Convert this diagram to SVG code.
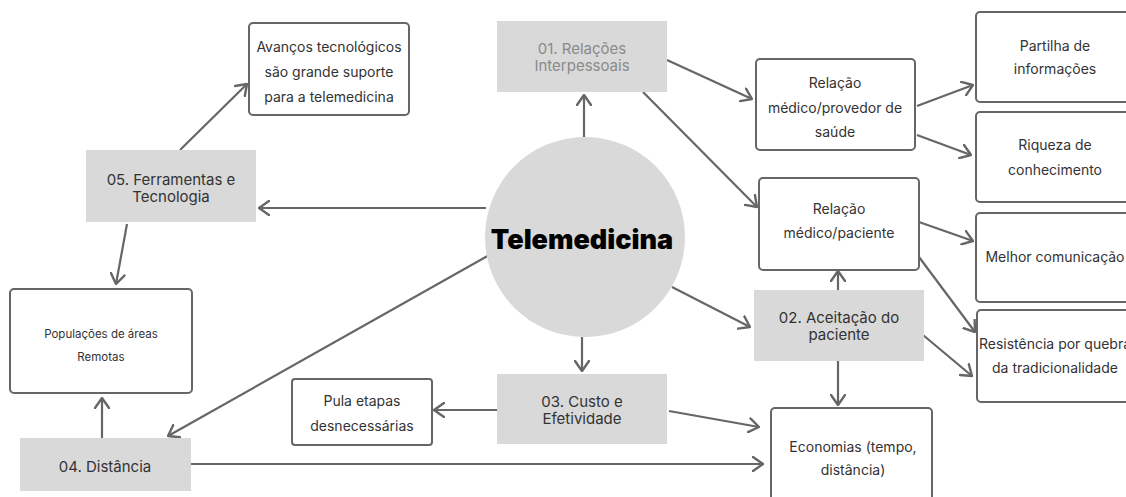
<svg xmlns="http://www.w3.org/2000/svg" width="1126" height="497" viewBox="0 0 1126 497">
<style>
.bg{fill:#ffffff}
.g{fill:#d9d9d9;stroke:none}
.w{fill:#ffffff;stroke:#666666;stroke-width:2}
.t{font-family:Inter,"Open Sans","Liberation Sans",sans-serif;fill:#333333;text-anchor:middle}
.t15{font-size:15px}
.t14{font-size:14px}
.t12{font-size:11.5px}
.light{fill:#8a8a8a}
.c{stroke:#666666;stroke-width:2.2;fill:none;marker-end:url(#ah)}
</style>
<defs>
<marker id="ah" viewBox="0 0 12 16" markerWidth="12" markerHeight="16" refX="11" refY="8" orient="auto" markerUnits="userSpaceOnUse">
<path d="M1,1 L11,8 L1,15" fill="none" stroke="#666666" stroke-width="2.4" stroke-linecap="round" stroke-linejoin="round"/>
</marker>
</defs>
<rect class="bg" x="0" y="0" width="1126" height="497"/>

<g id="connectors">
<line class="c" x1="584" y1="137" x2="584" y2="95"/>
<line class="c" x1="667" y1="60" x2="752" y2="99"/>
<line class="c" x1="643" y1="92" x2="757" y2="207"/>
<line class="c" x1="486" y1="208" x2="259" y2="208"/>
<line class="c" x1="180" y1="150" x2="247" y2="84"/>
<line class="c" x1="127" y1="224" x2="116" y2="284"/>
<line class="c" x1="491" y1="254" x2="168" y2="436"/>
<line class="c" x1="102" y1="438" x2="102" y2="398"/>
<line class="c" x1="191" y1="464" x2="763" y2="464"/>
<line class="c" x1="582" y1="337" x2="582" y2="371"/>
<line class="c" x1="497" y1="410" x2="434" y2="410"/>
<line class="c" x1="669" y1="411" x2="759" y2="427"/>
<line class="c" x1="672" y1="287" x2="750" y2="327"/>
<line class="c" x1="838" y1="290" x2="838" y2="271"/>
<line class="c" x1="838" y1="361" x2="838" y2="405"/>
<line class="c" x1="917" y1="106" x2="973" y2="85"/>
<line class="c" x1="917" y1="135" x2="971" y2="155"/>
<line class="c" x1="919" y1="222" x2="973" y2="241"/>
<line class="c" x1="919" y1="257" x2="975" y2="332"/>
<line class="c" x1="923" y1="335" x2="972" y2="376"/>
</g>

<g id="telemedicina">
<circle cx="585" cy="237" r="100" fill="#d9d9d9"/>
<text x="582" y="249" text-anchor="middle" font-family="Inter,'Liberation Sans',sans-serif" font-weight="900" font-size="27" fill="#000000">Telemedicina</text>
</g>

<g id="n01">
<rect class="g" x="497" y="21" width="170" height="71"/>
<text class="t t15 light" x="582" y="54">01. Relações</text>
<text class="t t15 light" x="582" y="71">Interpessoais</text>
</g>

<g id="n05">
<rect class="g" x="86" y="150" width="170" height="72"/>
<text class="t t15" x="171" y="185">05. Ferramentas e</text>
<text class="t t15" x="171" y="202">Tecnologia</text>
</g>

<g id="n03">
<rect class="g" x="497" y="374" width="170" height="70"/>
<text class="t t15" x="582" y="407">03. Custo e</text>
<text class="t t15" x="582" y="424">Efetividade</text>
</g>

<g id="n02">
<rect class="g" x="754" y="290" width="170" height="71"/>
<text class="t t15" x="839" y="323">02. Aceitação do</text>
<text class="t t15" x="839" y="340">paciente</text>
</g>

<g id="n04">
<rect class="g" x="20" y="438" width="171" height="53"/>
<text class="t t15" x="105" y="472">04. Distância</text>
</g>

<g id="avancos">
<rect class="w" x="249" y="23" width="160" height="92" rx="4"/>
<text class="t t14" x="329" y="52">Avanços tecnológicos</text>
<text class="t t14" x="329" y="77">são grande suporte</text>
<text class="t t14" x="329" y="102">para a telemedicina</text>
</g>

<g id="provedor">
<rect class="w" x="756" y="59" width="159" height="91" rx="4"/>
<text class="t t14" x="835" y="88">Relação</text>
<text class="t t14" x="835" y="113">médico/provedor de</text>
<text class="t t14" x="835" y="137">saúde</text>
</g>

<g id="paciente">
<rect class="w" x="759" y="178" width="160" height="92" rx="4"/>
<text class="t t14" x="839" y="214">Relação</text>
<text class="t t14" x="839" y="238">médico/paciente</text>
</g>

<g id="partilha">
<rect class="w" x="976" y="12" width="170" height="90" rx="4"/>
<text class="t t14" x="1055" y="51">Partilha de</text>
<text class="t t14" x="1055" y="74">informações</text>
</g>

<g id="riqueza">
<rect class="w" x="976" y="112" width="170" height="90" rx="4"/>
<text class="t t14" x="1055" y="150">Riqueza de</text>
<text class="t t14" x="1055" y="175">conhecimento</text>
</g>

<g id="melhor">
<rect class="w" x="976" y="213" width="170" height="89" rx="4"/>
<text class="t t14" x="1055" y="262">Melhor comunicação</text>
</g>

<g id="resistencia">
<rect class="w" x="977" y="310" width="170" height="92" rx="4"/>
<text class="t t14" x="1055" y="349">Resistência por quebra</text>
<text class="t t14" x="1055" y="373">da tradicionalidade</text>
</g>

<g id="economias">
<rect class="w" x="771" y="408" width="161" height="100" rx="4"/>
<text class="t t14" x="853" y="452">Economias (tempo,</text>
<text class="t t14" x="853" y="475">distância)</text>
</g>

<g id="populacoes">
<rect class="w" x="10" y="289" width="182" height="104" rx="4"/>
<text class="t t12" x="101" y="338">Populações de áreas</text>
<text class="t t12" x="101" y="361">Remotas</text>
</g>

<g id="pula">
<rect class="w" x="292" y="379" width="140" height="66" rx="3"/>
<text class="t t14" x="362" y="406">Pula etapas</text>
<text class="t t14" x="362" y="431">desnecessárias</text>
</g>
</svg>
